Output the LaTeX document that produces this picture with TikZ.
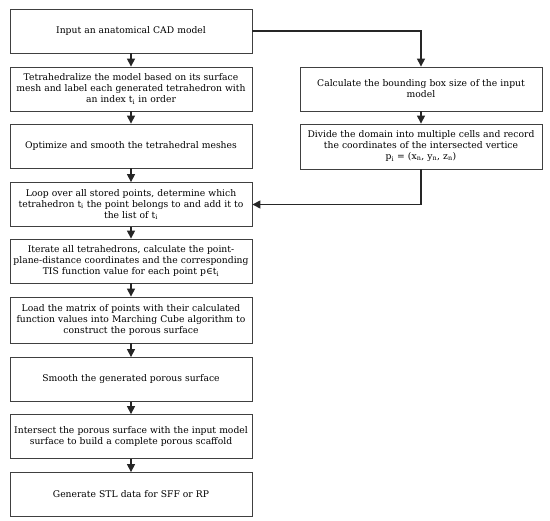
\documentclass[tikz,border=0pt]{standalone}
\usepackage{fontspec}
\setmainfont{DejaVu Serif}
\usetikzlibrary{arrows.meta}
\usetikzlibrary{positioning}
\tikzset{
	stepbox/.style={draw=black!75, line width=0.8pt, fill=white,
		minimum width=242pt, minimum height=44pt, text width=238pt,
		align=center, inner sep=0pt,
		font=\fontsize{9.2}{11}\selectfont},
	flow/.style={draw=black!85, line width=1.2pt,
		-{Triangle[width=8pt,length=8pt]}}
}

\begin{document}
\begin{tikzpicture}[
		x=1pt, y=-1pt
	]
	\useasboundingbox (0,0) rectangle (550,521);
	% left column
	\node[stepbox] (cad) at (131,31)
		{Input an anatomical CAD model};
	\node[stepbox] (tetra) at (131,89)
		{Tetrahedralize the model based on its surface\\
		mesh and label each generated tetrahedron with\\
		an index t\textsubscript{i} in order};
	\node[stepbox] (smoothmesh) at (131,146)
		{Optimize and smooth the tetrahedral meshes};
	\node[stepbox] (loop) at (131,204.5)
		{Loop over all stored points, determine which\\
		tetrahedron t\textsubscript{i} the point belongs to and add it to\\
		the list of t\textsubscript{i}};
	\node[stepbox] (iterate) at (131,261)
		{Iterate all tetrahedrons, calculate the point-\\
		plane-distance coordinates and the corresponding\\
		TIS function value for each point p∈t\textsubscript{i}};
	\node[stepbox, minimum height=46pt] (march) at (131,320)
		{Load the matrix of points with their calculated\\
		function values into Marching Cube algorithm to\\
		construct the porous surface};
	\node[stepbox] (smoothsurf) at (131,379.5)
		{Smooth the generated porous surface};
	\node[stepbox] (intersect) at (131,436.5)
		{Intersect the porous surface with the input model\\
		surface to build a complete porous scaffold};
	\node[stepbox] (stl) at (131,494.5)
		{Generate STL data for SFF or RP};
	% right column
	\node[stepbox] (bbox) at (421,89)
		{Calculate the bounding box size of the input\\
		model};
	\node[stepbox, minimum height=45pt] (divide) at (421,146.5)
		{Divide the domain into multiple cells and record\\
		the coordinates of the intersected vertice\\
		p\textsubscript{i} = (x\textsubscript{n}, y\textsubscript{n}, z\textsubscript{n})};
	% connectors
	\foreach \a/\b in {cad/tetra, tetra/smoothmesh, smoothmesh/loop,
		loop/iterate, iterate/march, march/smoothsurf,
		smoothsurf/intersect, intersect/stl, bbox/divide}
		\draw[flow] (\a) -- (\b);
	\draw[flow] (cad.east) -| (bbox.north);
	\draw[flow] (divide.south) |- (loop.east);
\end{tikzpicture}
\end{document}
